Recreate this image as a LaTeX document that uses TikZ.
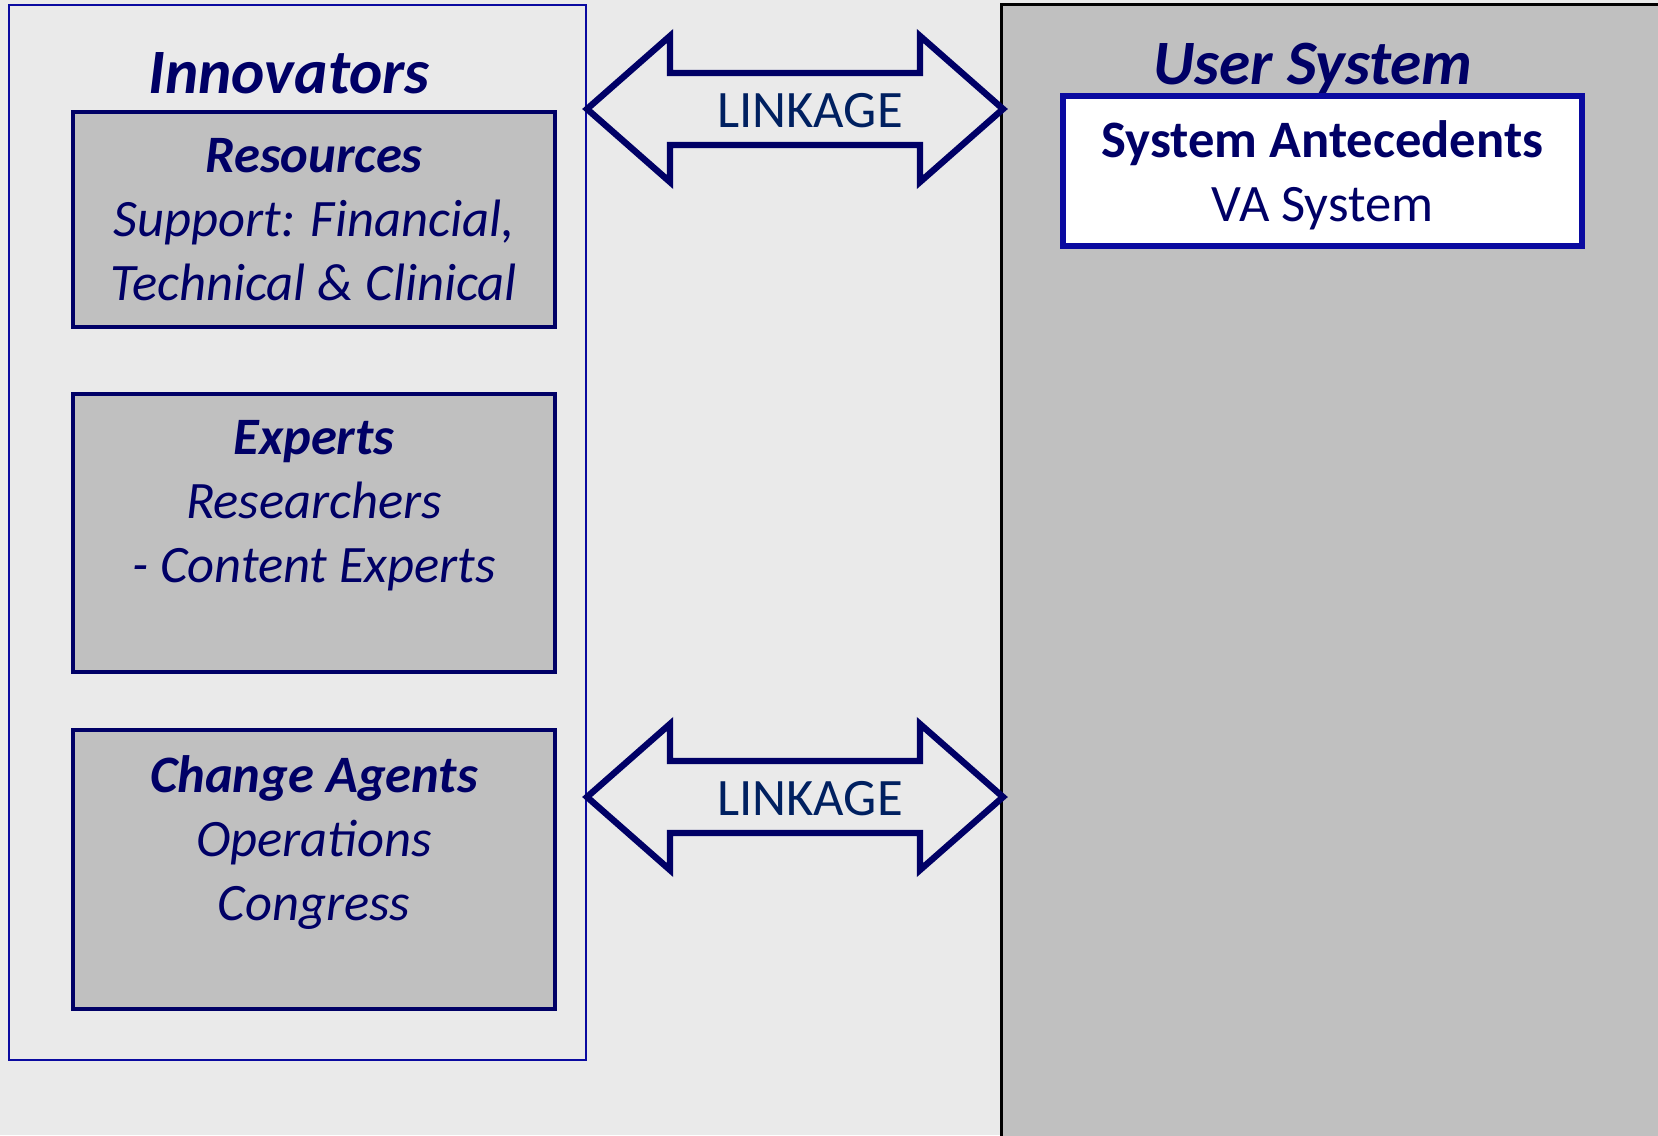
\documentclass[tikz,border=0pt]{standalone}
\usepackage{fontspec}
\setmainfont{Carlito}
\usetikzlibrary{positioning}
\definecolor{navy}{RGB}{0,0,102}
\definecolor{linkblue}{RGB}{0,32,96}
\definecolor{edgeblue}{RGB}{10,10,160}
\definecolor{paper}{RGB}{234,234,234}
\definecolor{boxgray}{RGB}{192,192,192}

\begin{document}
\begin{tikzpicture}[x=0.5pt, y=-0.5pt,
	title/.style={font=\fontsize{31.6}{36}\selectfont\bfseries\itshape, text=navy, inner sep=0pt},
	actor/.style={draw=navy, line width=2.4pt, fill=boxgray, minimum width=241pt, inner sep=0pt},
	actortext/.style={font=\fontsize{26.3}{32}\selectfont\itshape, text=navy, align=center, inner sep=0pt},
	linkarrow/.style={draw=navy, line width=3.2pt, line join=miter},
	linktext/.style={font=\fontsize{26.3}{32}\selectfont, text=linkblue, inner sep=0pt}]

	\useasboundingbox (0,0) rectangle (1658,1135);
	\clip (0,0) rectangle (1658,1135);
	\fill[paper] (0,0) rectangle (1658,1135);

	% the two sides
	\node[draw=edgeblue, line width=1pt, minimum width=288.5pt, minimum height=527.5pt, inner sep=0pt] (inno) at (297.5,532.5) {};
	\node[draw=black, line width=1.5pt, fill=boxgray, minimum width=334.5pt, minimum height=573pt, inner sep=0pt] (user) at (1335.5,577) {};
	\node[title] (innot) at (289,73) {Innovators};
	\node[title] (usert) at (1313,69) {User System};

	% innovators
	\node[actor, minimum height=107.5pt] (res) at (314,219.5) {};
	\node[actor, minimum height=139pt] (exp) at (314,533) {};
	\node[actor, minimum height=139.5pt] (chg) at (314,869.5) {};
	\node[actortext, below=14pt of res.north] (restxt) {{\bfseries Resources}\\Support: Financial,\\Technical \& Clinical};
	\node[actortext, below=14pt of exp.north] (exptxt) {{\bfseries Experts}\\Researchers\\- Content Experts};
	\node[actortext, below=14pt of chg.north] (chgtxt) {{\bfseries Change Agents}\\Operations\\Congress};

	% user system
	\node[draw=edgeblue, line width=2.6pt, fill=white, minimum width=259.5pt, minimum height=75pt, inner sep=0pt] (ante) at (1322.5,171) {};
	\node[actortext, font=\fontsize{26.3}{32}\selectfont, below=13.5pt of ante.north] (antetxt) {{\bfseries System Antecedents}\\VA System};

	% linkage
	\coordinate (lk1) at (795,109);
	\coordinate (lk2) at (795,797);
	\foreach \lk in {lk1,lk2}
		\draw[linkarrow] (\lk) ++(-208,0) -- ++(83,-73) -- ++(0,37) -- ++(250,0) -- ++(0,-37) -- ++(83,73)
			-- ++(-83,73) -- ++(0,-37) -- ++(-250,0) -- ++(0,37) -- cycle;
	\node[linktext] (lt1) at (810,111) {LINKAGE};
	\node[linktext] (lt2) at (810,799) {LINKAGE};

\end{tikzpicture}
\end{document}
